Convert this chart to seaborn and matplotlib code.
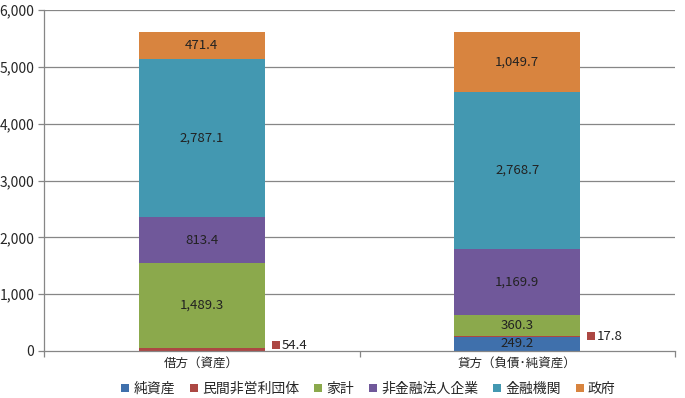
import matplotlib
matplotlib.use("Agg")
import matplotlib.pyplot as plt
import seaborn as sns
import pandas as pd
import numpy as np
from matplotlib.lines import Line2D

categories = ["借方（資産）", "貸方（負債･純資産）"]
series = ["純資産", "民間非営利団体", "家計", "非金融法人企業", "金融機関", "政府"]
values = {
    "純資産": [0.0, 249.2],
    "民間非営利団体": [54.4, 17.8],
    "家計": [1489.3, 360.3],
    "非金融法人企業": [813.4, 1169.9],
    "金融機関": [2787.1, 2768.7],
    "政府": [471.4, 1049.7],
}
colors = ["#3F70AC", "#AC4743", "#8BA94C", "#70589A", "#4398B1", "#D8843F"]
yticks = [0, 1000, 2000, 3000, 4000, 5000, 6000]

sns.set_theme(style="white")
plt.rcParams["font.family"] = ["Noto Sans CJK JP", "DejaVu Sans"]

fig = plt.figure(figsize=(6.85, 3.98), dpi=100)
ax = fig.add_axes([44 / 685, 1 - 351 / 398, (675 - 44) / 685, (351 - 10) / 398])

grid_c = "#868686"
for y in yticks[1:]:
    ax.axhline(y, color=grid_c, lw=0.9, zorder=0)

# cumulative sums
cum = np.cumsum(np.array([values[s] for s in series]), axis=0)
for i in range(len(series) - 1, -1, -1):
    df = pd.DataFrame({"cat": categories, "val": cum[i]})
    sns.barplot(data=df, x="cat", y="val", color=colors[i], width=0.4,
                saturation=1, ax=ax, zorder=2, linewidth=0, errorbar=None)

# labels
for j, cat in enumerate(categories):
    for i, s in enumerate(series):
        v = values[s][j]
        if v <= 0:
            continue
        lo = cum[i][j] - v
        if s == "民間非営利団体":
            yl = max(lo + v / 2, 105)
            ax.plot(j + 0.235, yl, marker="s", ms=5.5, color=colors[i],
                    clip_on=False, zorder=5, markeredgewidth=0)
            ax.text(j + 0.253, yl, f"{v:,.1f}", ha="left", va="center",
                    fontsize=9.5, color="#222222", zorder=5)
        else:
            ax.text(j, lo + v / 2, f"{v:,.1f}", ha="center", va="center",
                    fontsize=9.5, color="#222222", zorder=5)

ax.set_xlim(-0.5, 1.5)
ax.set_ylim(0, 6000)
ax.set_yticks(yticks)
ax.set_yticklabels([f"{t:,}" for t in yticks], fontsize=10)
ax.set_xticks([0, 1])
ax.set_xticklabels(categories, fontsize=9)
ax.set_xticks([-0.5, 0.5, 1.5], minor=True)
ax.tick_params(axis="x", which="major", length=0, pad=4)
ax.tick_params(axis="x", which="minor", length=4, color=grid_c, width=0.9, bottom=True)
ax.tick_params(axis="y", length=4, color=grid_c, width=0.9, left=True, pad=3)
ax.set_xlabel("")
ax.set_ylabel("")
for sp in ["top", "right"]:
    ax.spines[sp].set_visible(False)
for sp in ["left", "bottom"]:
    ax.spines[sp].set_color(grid_c)
    ax.spines[sp].set_linewidth(0.9)
ax.spines["bottom"].set_zorder(3)

handles = [Line2D([0], [0], marker="s", color="none", markerfacecolor=c,
                  markeredgewidth=0, markersize=6) for c in colors]
fig.legend(handles, series, loc="center", bbox_to_anchor=(369 / 685, 1 - 389 / 398),
           ncol=6, frameon=False, fontsize=10, handlelength=0.45, handletextpad=0.35,
           columnspacing=1.15)

fig.savefig("out.png", dpi=100)
